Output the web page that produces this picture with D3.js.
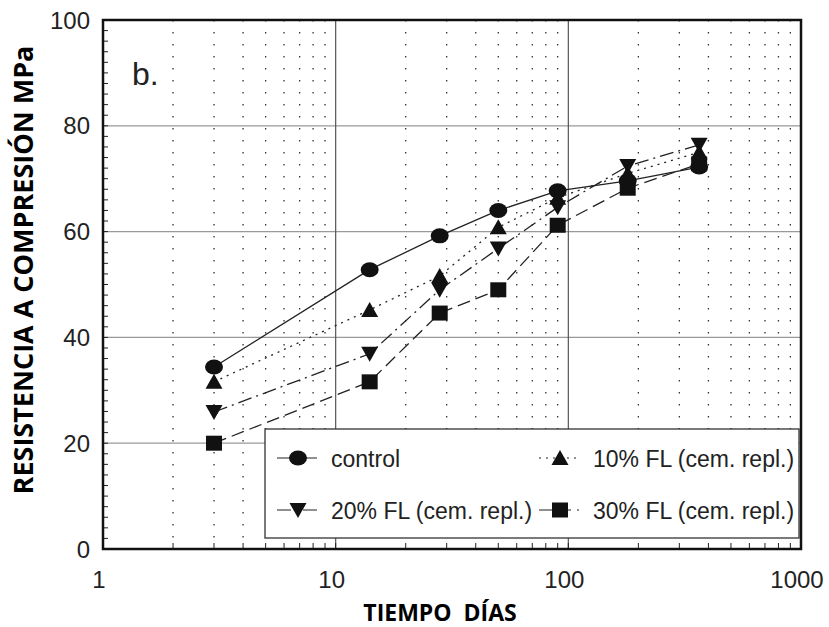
<!DOCTYPE html>
<html>
<head>
<meta charset="utf-8">
<script src="https://cdnjs.cloudflare.com/ajax/libs/d3/7.8.5/d3.min.js"></script>
<style>
  body { margin: 0; background: #fff; }
  text { font-family: "Liberation Sans", Arial, sans-serif; }
</style>
</head>
<body>
<div id="chart"></div>
<script>
// edad de ensayo (días)
var dias = [3, 14, 28, 50, 90, 180, 365];
var control = [34.4, 52.8, 59.2, 64.0, 67.7, 69.6, 72.2];
var fl10 = [31.6, 45.2, 51.6, 60.8, 66.4, 71.0, 75.0];
var fl20 = [25.9, 36.9, 49.0, 56.8, 64.6, 72.4, 76.4];
var fl30 = [20.0, 31.6, 44.6, 49.0, 61.2, 68.2, 72.8];
var yTicks = [0, 20, 40, 60, 80, 100];
var xTicks = [1, 10, 100, 1000];

var series = [
    { name: 'control', values: control, symbol: 'circle', dash: null },
    { name: '10% FL (cem. repl.)', values: fl10, symbol: 'up', dash: '2,5' },
    { name: '20% FL (cem. repl.)', values: fl20, symbol: 'down', dash: '14,5,2,5' },
    { name: '30% FL (cem. repl.)', values: fl30, symbol: 'square', dash: '13,6' }
];

var W = 829, H = 627;
var margin = { top: 20, right: 28, bottom: 78, left: 103 },
    width = W - margin.left - margin.right,
    height = H - margin.top - margin.bottom;

var svg = d3.select('#chart').append('svg')
    .attr('width', W)
    .attr('height', H)
    .append('g')
    .attr('transform', 'translate(' + margin.left + ',' + margin.top + ')');

var x = d3.scaleLog().domain([1, 1000]).range([0, width]);
var y = d3.scaleLinear().domain([0, 100]).range([height, 0]);

// minor log positions
var minors = [];
[1, 10, 100].forEach(function (d) {
    for (var k = 2; k <= 9; k++) minors.push(d * k);
});

// dotted vertical grid
svg.selectAll('.vdot').data(minors).enter().append('line')
    .attr('x1', function (d) { return x(d) }).attr('x2', function (d) { return x(d) })
    .attr('y1', 0).attr('y2', height)
    .attr('stroke', '#333').attr('stroke-width', 1.3)
    .attr('stroke-dasharray', '1.6,10.4');

// solid grid
svg.selectAll('.hgrid').data([20, 40, 60, 80]).enter().append('line')
    .attr('x1', 0).attr('x2', width)
    .attr('y1', function (d) { return y(d) }).attr('y2', function (d) { return y(d) })
    .attr('stroke', '#999').attr('stroke-width', 1.3);
svg.selectAll('.vgrid').data([10, 100]).enter().append('line')
    .attr('x1', function (d) { return x(d) }).attr('x2', function (d) { return x(d) })
    .attr('y1', 0).attr('y2', height)
    .attr('stroke', '#555').attr('stroke-width', 1.2);

// minor ticks, inside
var yMinor = d3.range(2, 100, 2);
svg.selectAll('.ytk').data(yMinor).enter().append('line')
    .attr('x1', 0).attr('x2', 5)
    .attr('y1', function (d) { return y(d) }).attr('y2', function (d) { return y(d) })
    .attr('stroke', '#222').attr('stroke-width', 1);
svg.selectAll('.xtk').data(minors.concat([10, 100])).enter().append('line')
    .attr('x1', function (d) { return x(d) }).attr('x2', function (d) { return x(d) })
    .attr('y1', height).attr('y2', height - 6)
    .attr('stroke', '#222').attr('stroke-width', 1);

// tick labels
svg.selectAll('.ylab').data(yTicks).enter().append('text')
    .attr('x', -13).attr('y', function (d) { return y(d) + 8.5 })
    .attr('text-anchor', 'end').attr('font-size', '24px').attr('fill', '#222')
    .text(function (d) { return d });
svg.selectAll('.xlab').data(xTicks).enter().append('text')
    .attr('x', function (d) { return x(d) - 4 }).attr('y', height + 39)
    .attr('text-anchor', 'middle').attr('font-size', '24px').attr('fill', '#222')
    .text(function (d) { return d });

// axis titles
svg.append('text')
    .attr('x', width / 2 - 12).attr('y', height + 72)
    .attr('text-anchor', 'middle').attr('font-size', '23px').attr('font-weight', 'bold')
    .style('font-family', '"Open Sans", sans-serif')
    .style('white-space', 'pre')
    .text('TIEMPO  DÍAS');
svg.append('text')
    .attr('transform', 'translate(-70,250) rotate(-90)')
    .attr('text-anchor', 'middle').attr('font-size', '27px').attr('font-weight', 'bold')
    .style('font-family', '"Open Sans", sans-serif')
    .text('RESISTENCIA A COMPRESIÓN MPa');

svg.append('text')
    .attr('x', 29).attr('y', 65)
    .attr('font-size', '32px').attr('fill', '#222')
    .text('b.');

// legend box (drawn before the lines so data sits over it)
var lg = svg.append('g').attr('transform', 'translate(162,409)');
lg.append('rect')
    .attr('width', 534).attr('height', 109)
    .attr('fill', '#fff').attr('stroke', '#333').attr('stroke-width', 1.3);

function drawSymbol(g, type, cx, cy) {
    if (type === 'circle') {
        g.append('ellipse').attr('cx', cx).attr('cy', cy).attr('rx', 9).attr('ry', 7.5).attr('fill', '#111');
    } else if (type === 'square') {
        g.append('rect').attr('x', cx - 8).attr('y', cy - 7.5).attr('width', 16).attr('height', 15).attr('fill', '#111');
    } else if (type === 'up') {
        g.append('path').attr('d', 'M' + (cx - 8.5) + ',' + (cy + 7) + 'L' + cx + ',' + (cy - 8) + 'L' + (cx + 8.5) + ',' + (cy + 7) + 'Z').attr('fill', '#111');
    } else {
        g.append('path').attr('d', 'M' + (cx - 8.5) + ',' + (cy - 7) + 'L' + cx + ',' + (cy + 8) + 'L' + (cx + 8.5) + ',' + (cy - 7) + 'Z').attr('fill', '#111');
    }
}

var line = d3.line()
    .x(function (d, i) { return x(dias[i]) })
    .y(function (d) { return y(d) });

series.forEach(function (s) {
    svg.append('path')
        .attr('d', line(s.values))
        .attr('fill', 'none').attr('stroke', '#222').attr('stroke-width', 1.3)
        .attr('stroke-dasharray', s.dash);
});
series.forEach(function (s) {
    var g = svg.append('g');
    s.values.forEach(function (v, i) { drawSymbol(g, s.symbol, x(dias[i]), y(v)) });
});

// legend entries
var legPos = [[0, 0], [1, 0], [0, 1], [1, 1]];
series.forEach(function (s, i) {
    var lx = legPos[i][0] * 262, ly = 29 + legPos[i][1] * 52;
    var g = lg.append('g');
    g.append('line').attr('x1', lx + 12).attr('x2', lx + 52).attr('y1', ly).attr('y2', ly)
        .attr('stroke', '#222').attr('stroke-width', 1.2).attr('stroke-dasharray', s.dash);
    drawSymbol(g, s.symbol, lx + 33, ly);
    g.append('text').attr('x', lx + 66).attr('y', ly + 8.5)
        .attr('font-size', '23px').attr('fill', '#222').text(s.name);
});

// frame
svg.append('rect')
    .attr('width', width).attr('height', height)
    .attr('fill', 'none').attr('stroke', '#111').attr('stroke-width', 2.5);
</script>
</body>
</html>
